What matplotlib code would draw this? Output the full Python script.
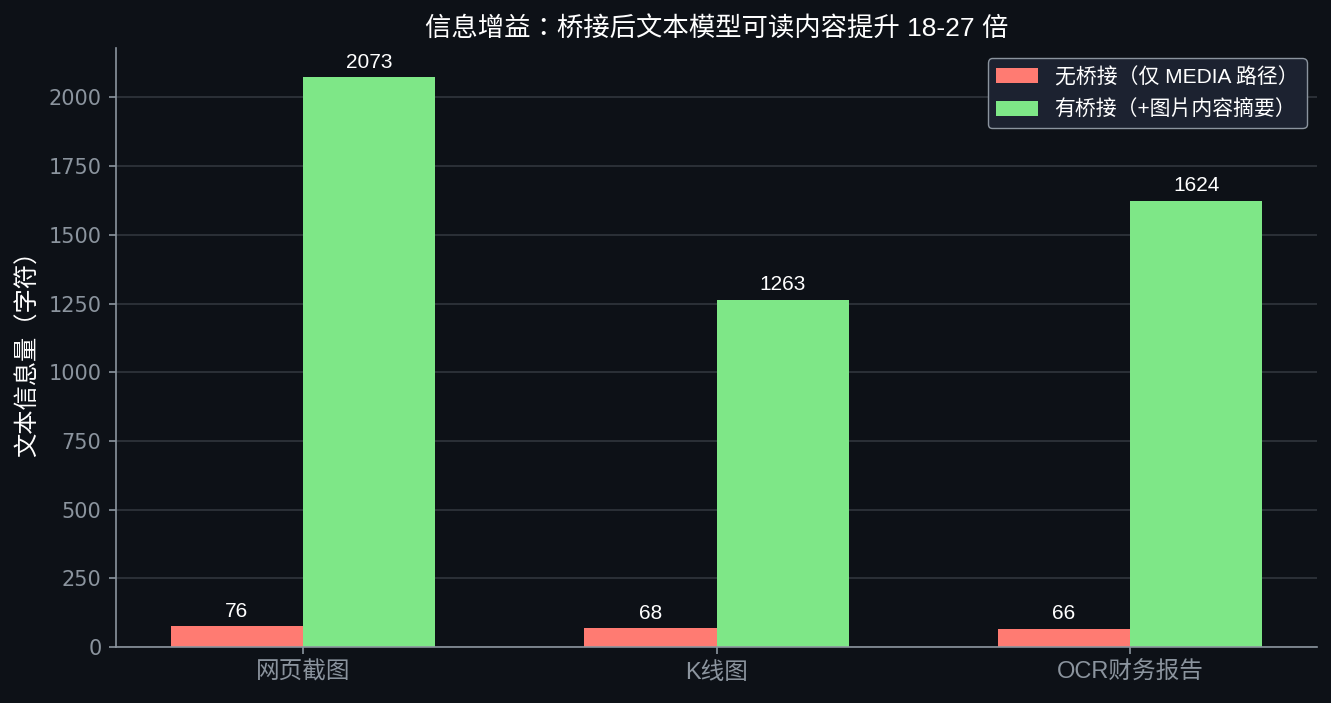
import matplotlib
matplotlib.use('Agg')
from matplotlib import pyplot as plt
import numpy as np

# Chart data.
categories = ['网页截图', 'K线图', 'OCR财务报告']
noBridge = [76, 68, 66]
withBridge = [2073, 1263, 1624]
seriesNames = ['无桥接（仅 MEDIA 路径）', '有桥接（+图片内容摘要）']

# Colours (dark theme).
bgColor = '#0d1117'
redColor = '#ff7b72'
greenColor = '#7ee787'
tickColor = '#8b949e'
gridColor = '#30363d'

plt.rcParams['font.family'] = ['Liberation Sans', 'Noto Sans CJK TC', 'DejaVu Sans']

fig = plt.figure(figsize=(13.31, 7.03), dpi=100, facecolor=bgColor)
ax = fig.add_axes([0.0872, 0.0797, 0.9023, 0.852])
ax.set_facecolor(bgColor)

x = np.arange(len(categories))
width = 0.32
barsA = ax.bar(x - width / 2, noBridge, width, color=redColor, label=seriesNames[0])
barsB = ax.bar(x + width / 2, withBridge, width, color=greenColor, label=seriesNames[1])

# Value labels on top of the bars.
for bars in (barsA, barsB):
  for b in bars:
    ax.annotate(f'{int(b.get_height())}', (b.get_x() + b.get_width() / 2, b.get_height()),
                xytext=(0, 4), textcoords='offset points', ha='center', va='bottom',
                color='white', fontsize=15)

ax.set_xticks(x)
ax.set_xticklabels(categories, fontsize=17, color=tickColor)
ax.tick_params(axis='both', colors=tickColor, length=5.25, width=1.2, pad=5.25)
ax.tick_params(axis='y', labelsize=15)
for lbl in ax.get_yticklabels():
  lbl.set_fontfamily('DejaVu Sans')
ax.set_ylim(0, 2180)

ax.yaxis.grid(True, color=gridColor, linewidth=1.2)
ax.set_axisbelow(True)
for side in ('top', 'right'):
  ax.spines[side].set_visible(False)
for side in ('left', 'bottom'):
  ax.spines[side].set_color(tickColor)
  ax.spines[side].set_linewidth(1.2)

ax.set_ylabel('文本信息量（字符）', color='white', fontsize=17.5, labelpad=6)
ax.set_title('信息增益：桥接后文本模型可读内容提升 18-27 倍', color='white', fontsize=19, pad=9)

leg = ax.legend(loc='upper right', fontsize=15, facecolor='#1c2230', edgecolor=tickColor,
                framealpha=1, labelspacing=0.6)
for t in leg.get_texts():
  t.set_color('white')

fig.savefig('out.png', dpi=100, facecolor=bgColor)
